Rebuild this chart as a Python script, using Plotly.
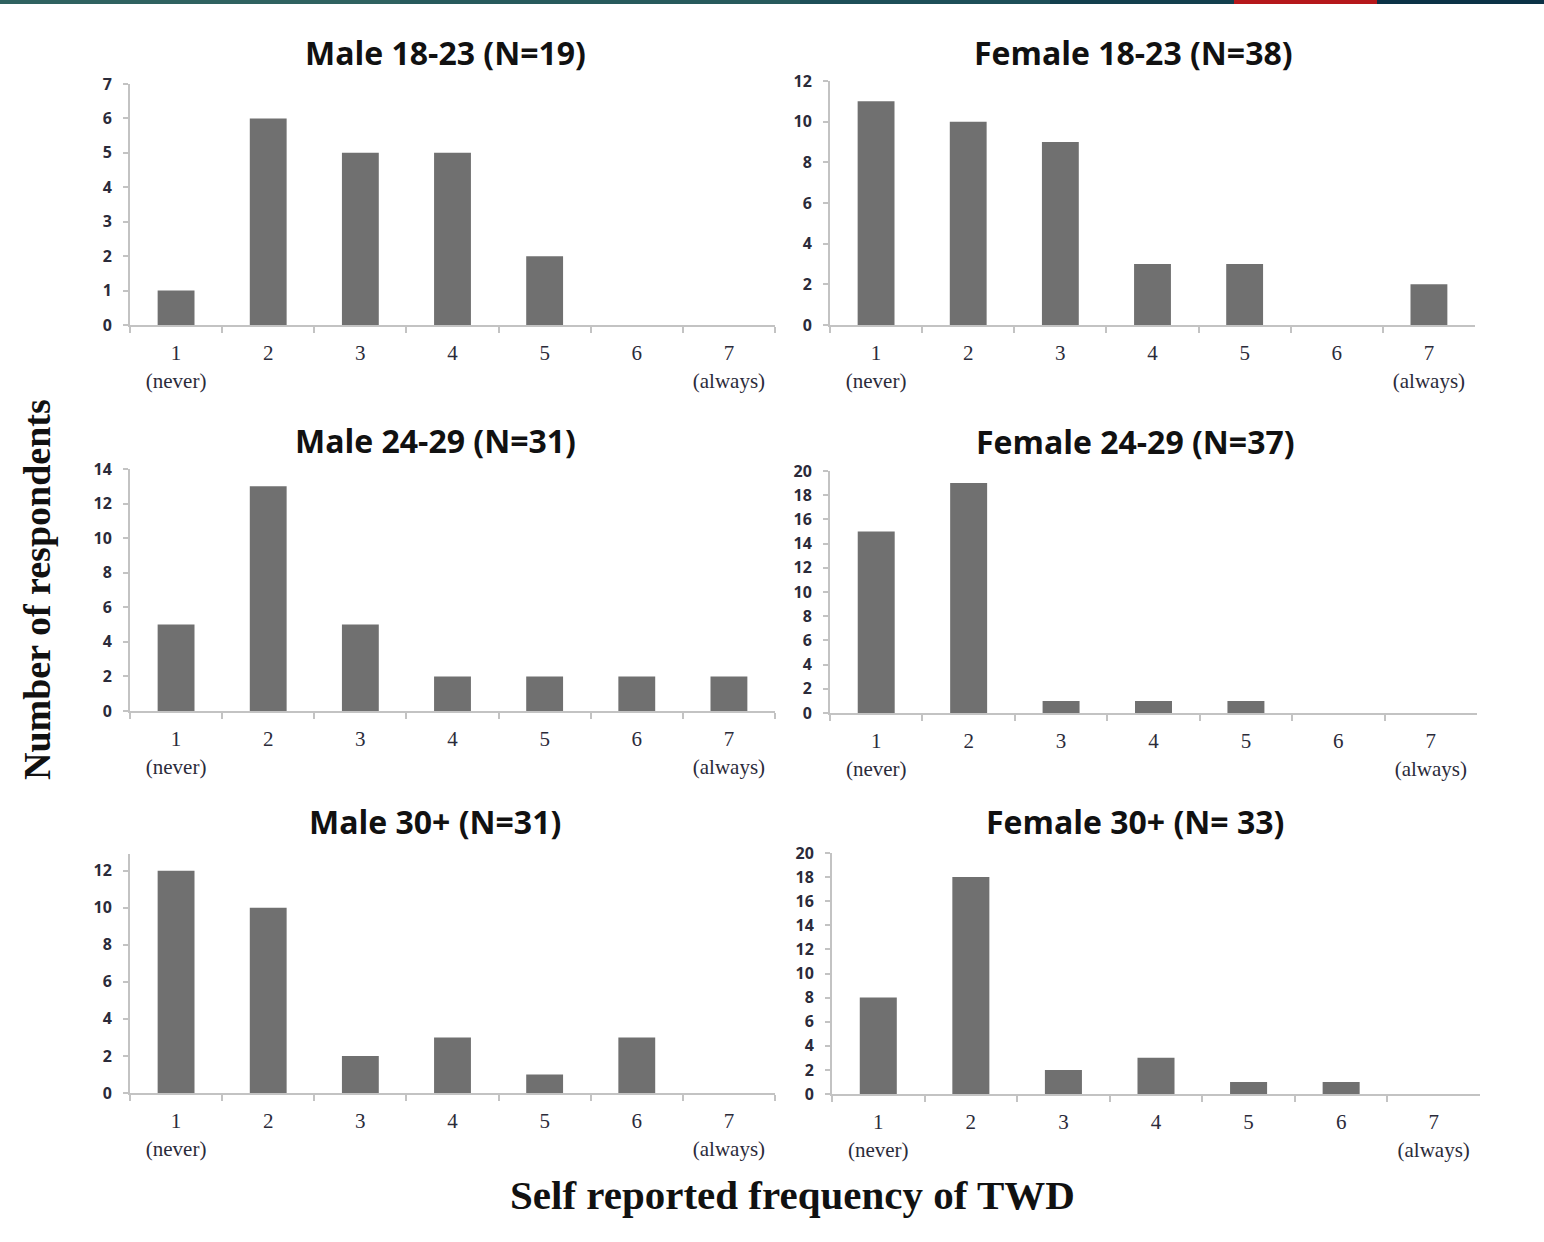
import plotly.graph_objects as go

W, H = 1544, 1242

# ---- data ----
categories = ["1<br>(never)", "2", "3", "4", "5", "6", "7<br>(always)"]
panel_titles = [
    "Male 18-23 (N=19)", "Female 18-23 (N=38)",
    "Male 24-29 (N=31)", "Female 24-29 (N=37)",
    "Male 30+ (N=31)", "Female 30+ (N= 33)",
]
male_18_23 = [1, 6, 5, 5, 2, 0, 0]
female_18_23 = [11, 10, 9, 3, 3, 0, 2]
male_24_29 = [5, 13, 5, 2, 2, 2, 2]
female_24_29 = [15, 19, 1, 1, 1, 0, 0]
male_30p = [12, 10, 2, 3, 1, 3, 0]
female_30p = [8, 18, 2, 3, 1, 1, 0]
series = [male_18_23, female_18_23, male_24_29, female_24_29, male_30p, female_30p]
y_tickvals = [
    list(range(0, 8, 1)),
    list(range(0, 13, 2)),
    list(range(0, 15, 2)),
    list(range(0, 21, 2)),
    list(range(0, 13, 2)),
    list(range(0, 21, 2)),
]
y_tops = [7, 12, 14, 20, 12.9, 20]
y_axis_title = "Number of respondents"
x_axis_title = "Self reported frequency of TWD"

# ---- layout geometry (pixels: x0, x1, ytop, ybottom) ----
boxes = [
    (130, 775, 84, 325),
    (830, 1475, 81, 325),
    (130, 775, 469, 711),
    (830, 1477, 471, 713),
    (130, 775, 854, 1093),
    (832, 1480, 853, 1094),
]
title_pos = [(445, 53), (1133, 53), (435, 440), (1135, 441), (435, 821), (1135, 821)]

def px(x):
    return x / W

def py(y):
    return 1 - y / H

fig = go.Figure()
layout = dict(
    template="none",
    width=W, height=H, autosize=False,
    margin=dict(l=0, r=0, t=0, b=0, pad=0, autoexpand=False),
    paper_bgcolor="white", plot_bgcolor="white",
    showlegend=False, bargap=0.6,
    annotations=[], shapes=[],
)

axis_col = "#c3c3c3"
for i, (vals, box, ttl, tv, top) in enumerate(zip(series, boxes, panel_titles, y_tickvals, y_tops)):
    n = i + 1
    xa = "x" if n == 1 else f"x{n}"
    ya = "y" if n == 1 else f"y{n}"
    fig.add_trace(go.Bar(
        x=categories, y=vals, xaxis=xa, yaxis=ya,
        marker=dict(color="#707070", line=dict(width=0)),
        hoverinfo="x+y",
    ))
    x0, x1, yt, yb = box
    layout["xaxis" if n == 1 else f"xaxis{n}"] = dict(
        domain=[px(x0), px(x1)], anchor=ya, automargin=False,
        type="category", range=[-0.5, 6.5],
        tickson="boundaries", ticks="outside", ticklen=6, tickwidth=2, tickcolor=axis_col,
        showline=True, linecolor=axis_col, linewidth=2,
        showgrid=False, zeroline=False, fixedrange=True,
        tickfont=dict(family="Liberation Serif, serif", size=21, color="#2b2b3a"),
        ticklabelstandoff=8,
    )
    layout["yaxis" if n == 1 else f"yaxis{n}"] = dict(
        domain=[py(yb), py(yt)], anchor=xa, automargin=False,
        range=[0, top], tickvals=tv,
        ticks="outside", ticklen=5, tickwidth=2, tickcolor=axis_col,
        showline=True, linecolor=axis_col, linewidth=2,
        showgrid=False, zeroline=False, fixedrange=True,
        tickfont=dict(family="Open Sans, sans-serif", size=16, color="#2b2b3a", weight="bold"),
        ticklabelstandoff=8,
    )
    tx, ty = title_pos[i]
    layout["annotations"].append(dict(
        text=f"<b>{ttl}</b>", x=px(tx), y=py(ty), xref="paper", yref="paper",
        xanchor="center", yanchor="middle", showarrow=False,
        font=dict(family="Open Sans, sans-serif", size=32, color="#111111"),
    ))

layout["annotations"].append(dict(
    text=f"<b>{y_axis_title}</b>", x=px(37), y=py(590), xref="paper", yref="paper",
    xanchor="center", yanchor="middle", showarrow=False, textangle=-90,
    font=dict(family="Liberation Serif, serif", size=38, color="#111111"),
))
layout["annotations"].append(dict(
    text=f"<b>{x_axis_title}</b>", x=px(792), y=py(1195), xref="paper", yref="paper",
    xanchor="center", yanchor="middle", showarrow=False,
    font=dict(family="Liberation Serif, serif", size=41, color="#111111"),
))

# decorative top stripe
stripe = [(0, 400, "#2f6260"), (400, 800, "#275a5c"), (800, 1050, "#1d4f58"),
          (1050, 1234, "#133f4d"), (1234, 1377, "#b5181b"), (1377, 1544, "#0b3246")]
for a, b, c in stripe:
    layout["shapes"].append(dict(type="rect", xref="paper", yref="paper",
                                 x0=px(a), x1=px(b), y0=py(4), y1=1,
                                 fillcolor=c, line=dict(width=0), layer="above"))

fig.update_layout(**layout)
fig.write_html(
    "out.html",
    config={"displayModeBar": False},
    post_script="document.body.style.margin='0';document.body.style.padding='0';"
                "document.documentElement.style.overflow='hidden';",
)
